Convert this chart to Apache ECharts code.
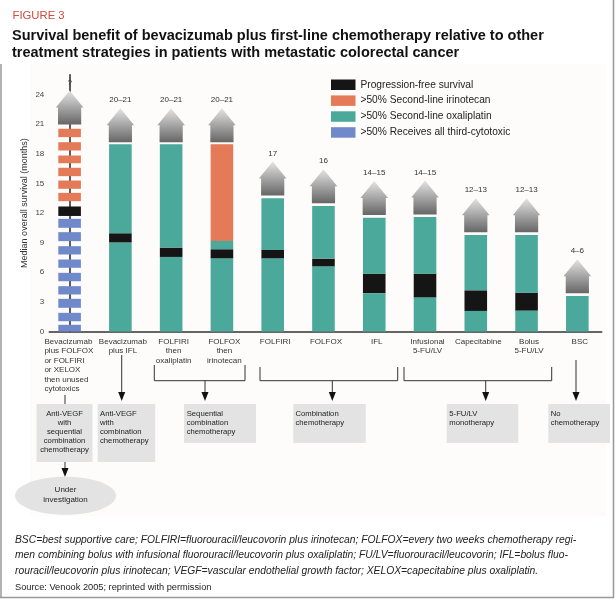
<!DOCTYPE html>
<html><head><meta charset="utf-8">
<script src="https://cdn.jsdelivr.net/npm/echarts@6/dist/echarts.min.js"></script>
<style>html,body{margin:0;padding:0;background:#fff}#c{width:616px;height:603px}</style>
</head><body><div id="c"></div>
<script>
// ---------- data ----------
const categories = [
  'Bevacizumab\nplus FOLFOX\nor FOLFIRI\nor XELOX\nthen unused\ncytotoxics',
  'Bevacizumab\nplus IFL',
  'FOLFIRI\nthen\noxaliplatin',
  'FOLFOX\nthen\nirinotecan',
  'FOLFIRI', 'FOLFOX', 'IFL',
  'Infusional\n5-FU/LV', 'Capecitabine', 'Bolus\n5-FU/LV', 'BSC'
];
const pfsStart       = [11.70, 9.00, 7.55, 7.38, 7.38, 6.57, 3.87, 3.43, 2.08, 2.10, null];
const pfsEnd         = [12.66, 9.95, 8.50, 8.33, 8.26, 7.38, 5.86, 5.86, 4.17, 3.93, null];
const oxaliplatinTop = [null, 18.97, 18.97, 9.17, 13.50, 12.70, 11.53, 11.60, 9.78, 9.78, 3.60];
const irinotecanTop  = [null, null, null, 18.97, null, null, null, null, null, null, null];
const arrowBase      = [20.96, 19.17, 19.17, 19.17, 13.77, 13.00, 11.80, 11.85, 10.06, 10.06, 3.88];
const survivalRange  = ['?', '20–21', '20–21', '20–21', '17', '16', '14–15', '14–15', '12–13', '12–13', '4–6'];
// first bar is drawn as dashed blocks
const thirdCytotoxicDashes = [[0,0.68],[1.04,1.89],[2.40,3.31],[3.75,4.59],[5.09,5.94],[6.45,7.29],[7.80,8.64],[9.15,10.06],[10.50,11.41]];
const irinotecanDashes     = [[13.20,14.04],[14.45,15.29],[15.73,16.58],[17.04,17.82],[18.33,19.17],[19.68,20.53]];
const yMin = 0, yMax = 26, yStep = 3;

const legendNames = ['Progression-free survival', '>50% Second-line irinotecan', '>50% Second-line oxaliplatin', '>50% Receives all third-cytotoxic'];

// ---------- build segment data ----------
const pfsData = [], oxaData = [], iriData = [], thirdData = [];
categories.forEach((c, i) => {
  if (pfsStart[i] != null) pfsData.push([i, pfsStart[i], pfsEnd[i]]);
  if (oxaliplatinTop[i] != null) {
    if (pfsStart[i] != null) { oxaData.push([i, 0, pfsStart[i]]); oxaData.push([i, pfsEnd[i], oxaliplatinTop[i]]); }
    else oxaData.push([i, 0, oxaliplatinTop[i]]);
  }
  if (irinotecanTop[i] != null) iriData.push([i, oxaliplatinTop[i], irinotecanTop[i]]);
});
irinotecanDashes.forEach(d => iriData.push([0, d[0], d[1]]));
thirdCytotoxicDashes.forEach(d => thirdData.push([0, d[0], d[1]]));

const BARW = 22.6;
const FONT = 'Liberation Sans, Arial, sans-serif';

function segRender(params, api) {
  const i = api.value(0), s = api.value(1), e = api.value(2);
  const p0 = api.coord([i, s]), p1 = api.coord([i, e]);
  return { type: 'rect', shape: { x: p0[0] - BARW / 2, y: p1[1], width: BARW, height: p0[1] - p1[1] },
           style: { fill: api.visual('color') } };
}
function arrowRender(params, api) {
  const i = api.value(0), b = api.value(1);
  const p = api.coord([i, b]);
  const cx = p[0], by = p[1];
  const sw = 11.6, hw = 13.8, sh = 17, hh = 17;
  return { type: 'group', children: [
    { type: 'polygon', shape: { points: [[cx - sw, by], [cx - sw, by - sh], [cx - hw, by - sh], [cx, by - sh - hh], [cx + hw, by - sh], [cx + sw, by - sh], [cx + sw, by]] },
      style: { fill: { type: 'linear', x: 0, y: 0, x2: 0, y2: 1, colorStops: [{ offset: 0, color: '#e4e4e4' }, { offset: 1, color: '#666' }] } } },
    { type: 'text', x: cx, y: by - sh - hh - 8, style: { text: survivalRange[params.dataIndex], align: 'center', verticalAlign: 'middle', fontSize: 8, fontFamily: FONT, fill: '#333' } }
  ] };
}
function catLabelRender(params, api) {
  const i = api.value(0);
  const p = api.coord([i, 0]);
  const first = i === 0;
  return { type: 'text', x: first ? p[0] - 25.2 : p[0] + 2.5, y: p[1] + 5.5,
    style: { text: categories[i], align: first ? 'left' : 'center', verticalAlign: 'top', fontSize: 8, lineHeight: 9.5, fontFamily: FONT, fill: '#333' } };
}

const chart = echarts.init(document.getElementById('c'), null, { renderer: 'canvas' });

// ---------- annotations (non-data decoration) ----------
const LINE = '#333';
function vArrow(x, y1, tip) {
  return [
    { type: 'line', shape: { x1: x, y1: y1, x2: x, y2: tip - 8 }, style: { stroke: LINE, lineWidth: 1 } },
    { type: 'polygon', shape: { points: [[x - 3.5, tip - 9], [x + 3.5, tip - 9], [x, tip]] }, style: { fill: '#111' } }
  ];
}
function bracket(x1, x2, yTop, yBot) {
  return { type: 'polyline', shape: { points: [[x1, yTop], [x1, yBot], [x2, yBot], [x2, yTop]] }, style: { stroke: LINE, lineWidth: 1, fill: null } };
}
function box(x, y, w, h) { return { type: 'rect', shape: { x, y, width: w, height: h }, style: { fill: '#e3e3e3' } }; }
function btext(x, y, t, align) {
  return { type: 'text', x, y, style: { text: t, align: align || 'left', verticalAlign: 'top', fontSize: 7.7, lineHeight: 9, fontFamily: FONT, fill: '#222' } };
}
const graphics = [
  { type: 'rect', z: -10, shape: { x: 30, y: 64, width: 576, height: 452 }, style: { fill: '#fdfcfa' } },
  { type: 'line', shape: { x1: 613.5, y1: 0, x2: 613.5, y2: 598 }, style: { stroke: '#999', lineWidth: 1.5 } },
  { type: 'line', shape: { x1: 1, y1: 64, x2: 1, y2: 598 }, style: { stroke: '#999', lineWidth: 1.5 } },
  { type: 'line', shape: { x1: 0, y1: 597.5, x2: 614, y2: 597.5 }, style: { stroke: '#999', lineWidth: 1.5 } },
  { type: 'text', x: 12.5, y: 15.5, style: { text: 'FIGURE 3', verticalAlign: 'middle', fontSize: 11.3, fontFamily: FONT, fill: '#cf4b3c' } },
  { type: 'text', x: 12, y: 35.5, style: { text: 'Survival benefit of bevacizumab plus first-line chemotherapy relative to other', verticalAlign: 'middle', fontSize: 14.5, fontWeight: 'bold', fontFamily: FONT, fill: '#111' } },
  { type: 'text', x: 12, y: 52.5, style: { text: 'treatment strategies in patients with metastatic colorectal cancer', verticalAlign: 'middle', fontSize: 14.5, fontWeight: 'bold', fontFamily: FONT, fill: '#111' } },
  // connectors
  { type: 'line', shape: { x1: 65, y1: 395, x2: 65, y2: 404 }, style: { stroke: LINE, lineWidth: 1 } },
  ...vArrow(121.7, 355, 401),
  bracket(154.3, 245, 365, 380.7), ...vArrow(205, 380.7, 401),
  bracket(260, 397.7, 367, 380.7), ...vArrow(332.3, 380.7, 401),
  bracket(404, 551.7, 367, 380.7), ...vArrow(485.7, 380.7, 401),
  ...vArrow(576, 360, 401),
  ...vArrow(65, 462, 477),
  // boxes
  box(36.5, 404, 56, 58), btext(64.5, 409, 'Anti-VEGF\nwith\nsequential\ncombination\nchemotherapy', 'center'),
  box(97.7, 404, 57.5, 58), btext(100, 409, 'Anti-VEGF\nwith\ncombination\nchemotherapy'),
  box(184, 404, 72, 39), btext(186.7, 409, 'Sequential\ncombination\nchemotherapy'),
  box(293.3, 404, 72.4, 39), btext(295.5, 409, 'Combination\nchemotherapy'),
  box(446.7, 404, 71.6, 39), btext(449.3, 409, '5-FU/LV\nmonotherapy'),
  box(548.3, 404, 61.7, 39), btext(550.7, 409, 'No\nchemotherapy'),
  { type: 'ellipse', shape: { cx: 65.5, cy: 495.8, rx: 50.5, ry: 19 }, style: { fill: '#e3e3e3' } },
  { type: 'text', x: 65.5, y: 494.5, style: { text: 'Under\ninvestigation', align: 'center', verticalAlign: 'middle', fontSize: 8, lineHeight: 10, fontFamily: FONT, fill: '#222' } },
  // footnote
  { type: 'text', x: 15, y: 540, style: { text: 'BSC=best supportive care; FOLFIRI=fluorouracil/leucovorin plus irinotecan; FOLFOX=every two weeks chemotherapy regi-', verticalAlign: 'middle', fontSize: 10.3, fontStyle: 'italic', fontFamily: FONT, fill: '#222' } },
  { type: 'text', x: 15, y: 555.5, style: { text: 'men combining bolus with infusional fluorouracil/leucovorin plus oxaliplatin; FU/LV=fluorouracil/leucovorin; IFL=bolus fluo-', verticalAlign: 'middle', fontSize: 10.3, fontStyle: 'italic', fontFamily: FONT, fill: '#222' } },
  { type: 'text', x: 15, y: 571, style: { text: 'rouracil/leucovorin plus irinotecan; VEGF=vascular endothelial growth factor; XELOX=capecitabine plus oxaliplatin.', verticalAlign: 'middle', fontSize: 10.3, fontStyle: 'italic', fontFamily: FONT, fill: '#222' } },
  { type: 'text', x: 15, y: 587, style: { text: 'Source: Venook 2005; reprinted with permission', verticalAlign: 'middle', fontSize: 9.25, fontFamily: FONT, fill: '#222' } }
];

chart.setOption({
  animation: false,
  backgroundColor: '#fff',
  textStyle: { fontFamily: FONT },
  grid: { left: 49.3, right: 14.3, top: 74.75, bottom: 271.5, containLabel: false },
  legend: {
    data: legendNames, orient: 'vertical', left: 326, top: 74.5, icon: 'rect', itemWidth: 24.5, itemHeight: 10.5, itemGap: 5.4,
    textStyle: { fontSize: 10.2, color: '#222', fontFamily: FONT }, selectedMode: false
  },
  xAxis: {
    type: 'value', min: -0.4, max: 10.48,
    axisLine: { show: true, lineStyle: { color: '#333', width: 1.6 } },
    axisTick: { show: false }, axisLabel: { show: false }, splitLine: { show: false }
  },
  yAxis: {
    type: 'value', min: yMin, max: yMax, interval: yStep,
    name: 'Median overall survival (months)', nameLocation: 'middle', nameGap: 20, nameMoveOverlap: false,
    nameTextStyle: { fontSize: 9, color: '#333', fontFamily: FONT },
    axisLine: { show: true, lineStyle: { color: '#333', width: 1.6 } },
    axisTick: { show: false }, splitLine: { show: false },
    axisLabel: { fontSize: 8, color: '#444', margin: 5, showMaxLabel: false, formatter: v => (v % yStep === 0 ? String(v) : '') }
  },
  graphic: graphics,
  series: [
    { type: 'custom', name: legendNames[0], data: pfsData, renderItem: segRender, itemStyle: { color: '#151515' }, encode: { x: 0, y: [1, 2] } },
    { type: 'custom', name: legendNames[1], data: iriData, renderItem: segRender, itemStyle: { color: '#e57a59' }, encode: { x: 0, y: [1, 2] } },
    { type: 'custom', name: legendNames[2], data: oxaData, renderItem: segRender, itemStyle: { color: '#4ba99b' }, encode: { x: 0, y: [1, 2] } },
    { type: 'custom', name: legendNames[3], data: thirdData, renderItem: segRender, itemStyle: { color: '#7089cb' }, encode: { x: 0, y: [1, 2] } },
    { type: 'custom', name: 'arrows', data: arrowBase.map((b, i) => [i, b]), renderItem: arrowRender, encode: { x: 0, y: 1 }, silent: true },
    { type: 'custom', name: 'categories', data: categories.map((c, i) => [i, 0]), renderItem: catLabelRender, encode: { x: 0, y: 1 }, silent: true, clip: false }
  ]
});
</script></body></html>
